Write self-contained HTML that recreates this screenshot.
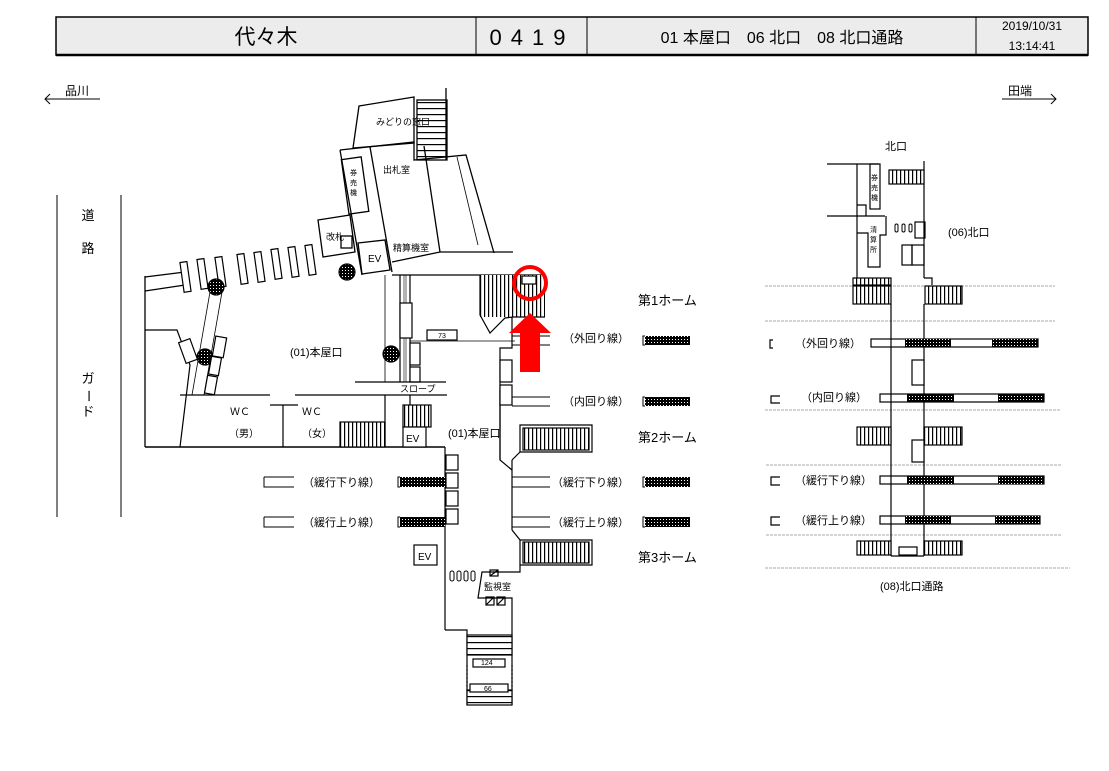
<!DOCTYPE html>
<html><head><meta charset="utf-8"><style>
html,body{margin:0;padding:0;background:#fff;}
svg{display:block;font-family:"Liberation Sans","Noto Sans CJK JP",sans-serif;}
</style></head><body>
<svg width="1109" height="771" viewBox="0 0 1109 771" xmlns="http://www.w3.org/2000/svg">
<defs>
<pattern id="h" width="3" height="3" patternUnits="userSpaceOnUse"><rect width="3" height="3" fill="#000"/><rect width="1" height="1" fill="#fff"/></pattern>
<pattern id="st" width="4" height="10" patternUnits="userSpaceOnUse"><rect width="4" height="10" fill="#fff"/><rect width="1.2" height="10" fill="#000"/></pattern>
<pattern id="sth" width="10" height="6" patternUnits="userSpaceOnUse"><rect width="10" height="6" fill="#fff"/><rect width="10" height="1.2" fill="#000"/></pattern>
</defs>
<!-- header -->
<rect x="56" y="17" width="1032" height="38" fill="#ececec" stroke="#000" stroke-width="1.5"/>
<line x1="56" y1="55" x2="1088" y2="55" stroke="#000" stroke-width="2.5"/>
<line x1="476" y1="17" x2="476" y2="55" stroke="#000"/>
<line x1="587" y1="17" x2="587" y2="55" stroke="#000"/>
<line x1="976" y1="17" x2="976" y2="55" stroke="#000"/>
<text x="266" y="44" font-size="21" text-anchor="middle">代々木</text>
<text x="532" y="45" font-size="22" text-anchor="middle" letter-spacing="9">0419</text>
<text x="782" y="43" font-size="16" text-anchor="middle">01 本屋口　06 北口　08 北口通路</text>
<text x="1032" y="30" font-size="12" text-anchor="middle">2019/10/31</text>
<text x="1032" y="50" font-size="12" text-anchor="middle">13:14:41</text>
<!-- direction -->
<g stroke="#000" fill="none" stroke-width="1">
<line x1="45" y1="99" x2="100" y2="99"/><polyline points="50,94 45,99 50,104"/>
<line x1="1002" y1="99" x2="1056" y2="99"/><polyline points="1051,94 1056,99 1051,104"/>
<line x1="57" y1="195" x2="57" y2="517"/><line x1="121" y1="195" x2="121" y2="517"/>
</g>
<text x="65" y="95" font-size="12">品川</text>
<text x="1008" y="95" font-size="12">田端</text>
<g font-size="13" text-anchor="middle"><text x="88" y="220">道</text><text x="88" y="253">路</text><text x="88" y="383">ガ</text><text x="88" y="400" transform="rotate(90 88 396)">ー</text><text x="88" y="416">ド</text></g>

<!-- LEFT MAIN -->
<g stroke="#000" fill="none" stroke-width="1.3">
<polygon points="359,106 414,97 414,143 353,148" fill="#fff"/>
<rect x="417" y="100" width="30" height="60" fill="url(#sth)"/>
<line x1="446" y1="88" x2="446" y2="160"/>
<polyline points="340,150 414,142 414,160 466,155 494,253"/>
<line x1="340" y1="150" x2="362" y2="275"/>
<line x1="370" y1="147" x2="392" y2="272"/>
<line x1="424" y1="146" x2="440" y2="252"/>
<line x1="457" y1="157" x2="478" y2="245" stroke-width="0.8"/>
<rect x="345" y="158" width="20" height="55" transform="rotate(-8 355 185)"/>
<polygon points="318,220 350,215 355,252 323,257" fill="#fff"/>
<rect x="341" y="236" width="11" height="12"/>
<polygon points="358,243 385,240 390,270 362,274" fill="#fff"/>
<polyline points="392,262 440,252 513,252"/>
<line x1="392" y1="275" x2="543" y2="275"/>
<line x1="145" y1="277" x2="185" y2="272"/><line x1="145" y1="291" x2="185" y2="285"/>
<line x1="145" y1="276" x2="145" y2="447"/>
</g>
<g stroke="#000" fill="#fff" stroke-width="1.2">
<rect x="182" y="262" width="7" height="30" transform="rotate(-8 185 277)"/>
<rect x="199" y="259" width="7" height="30" transform="rotate(-8 202 274)"/>
<rect x="217" y="257" width="7" height="30" transform="rotate(-8 220 272)"/>
<rect x="239" y="254" width="7" height="30" transform="rotate(-8 242 269)"/>
<rect x="256" y="252" width="7" height="30" transform="rotate(-8 259 267)"/>
<rect x="273" y="249" width="7" height="30" transform="rotate(-8 276 264)"/>
<rect x="290" y="247" width="7" height="30" transform="rotate(-8 293 262)"/>
<rect x="307" y="245" width="7" height="30" transform="rotate(-8 310 260)"/>
<circle cx="216" cy="287" r="8" fill="url(#h)"/>
<circle cx="347" cy="272" r="8" fill="url(#h)"/>
<circle cx="205" cy="357" r="8" fill="url(#h)"/>
<circle cx="391" cy="354" r="8" fill="url(#h)"/>
</g>
<g stroke="#000" fill="none" stroke-width="1.2">
<line x1="210" y1="292" x2="192" y2="395" stroke-width="0.8"/>
<line x1="222" y1="292" x2="204" y2="395" stroke-width="0.8"/>
<polyline points="145,330 177,330 190,365 180,447"/>
<line x1="180" y1="395" x2="270" y2="395"/>
<line x1="295" y1="395" x2="447" y2="395"/>
<line x1="270" y1="405" x2="298" y2="405"/><line x1="283" y1="405" x2="283" y2="447"/>
<line x1="145" y1="447" x2="445" y2="447" stroke-width="1.6"/>
<rect x="182" y="340" width="12" height="22" transform="rotate(-20 188 351)" fill="#fff"/>
<rect x="214" y="337" width="11" height="20" transform="rotate(10 220 347)" fill="#fff"/>
<rect x="210" y="357" width="10" height="18" transform="rotate(10 215 366)" fill="#fff"/>
<rect x="206" y="376" width="10" height="18" transform="rotate(10 211 385)" fill="#fff"/>
<line x1="385" y1="275" x2="385" y2="382" stroke-width="0.8"/>
<line x1="400" y1="275" x2="400" y2="382"/><line x1="410" y1="275" x2="410" y2="382"/>
<line x1="404" y1="275" x2="404" y2="382" stroke-width="0.6"/><line x1="406" y1="275" x2="406" y2="382" stroke-width="0.6"/>
<rect x="400" y="303" width="12" height="35" fill="#fff"/>
<line x1="410" y1="341" x2="515" y2="341" stroke-width="0.8"/>
<rect x="427" y="330" width="30" height="10" fill="#fff"/>
<rect x="410" y="343" width="10" height="22" fill="#fff"/>
<rect x="410" y="367" width="10" height="15" fill="#fff"/>
<line x1="355" y1="382" x2="446" y2="382"/>
<line x1="385" y1="395" x2="385" y2="447"/>
<line x1="410" y1="395" x2="410" y2="405"/>
<rect x="340" y="422" width="45" height="25" fill="url(#st)"/>
<rect x="403" y="405" width="28" height="22" fill="url(#st)"/>
<rect x="403" y="427" width="23" height="20" fill="#fff"/>
<rect x="480" y="275" width="65" height="42" fill="url(#st)" stroke="none"/>
<polyline points="480,275 480,315 490,333 505,318 513,317 545,317"/>
<rect x="522" y="276" width="14" height="8" fill="#fff"/>
<polyline points="512,317 512,348 500,348 500,460"/>
<polyline points="500,390 500,460 512,470"/>
<line x1="512" y1="460" x2="512" y2="530"/>
<polyline points="512,460 520,452 520,425 592,425 592,452 520,452" />
<polyline points="512,530 520,540 520,565 592,565 592,540 520,540"/>
<rect x="523" y="428" width="66" height="22" fill="url(#st)"/>
<rect x="523" y="542" width="66" height="21" fill="url(#st)"/>
<polyline points="520,565 520,572 482,572 478,598 512,598 512,630"/>
<line x1="445" y1="447" x2="445" y2="630"/>
<polyline points="445,630 467,630 467,705"/><line x1="512" y1="630" x2="512" y2="705"/>
<rect x="467" y="635" width="45" height="20" fill="url(#sth)"/>
<rect x="467" y="690" width="45" height="15" fill="url(#sth)"/>
<line x1="467" y1="665" x2="467" y2="690" stroke-dasharray="2,2"/><line x1="512" y1="665" x2="512" y2="690" stroke-dasharray="2,2"/>
<rect x="473" y="659" width="32" height="8" fill="#fff"/>
<rect x="470" y="684" width="38" height="8" fill="#fff"/>
<rect x="414" y="545" width="23" height="20" fill="#fff"/>
<rect x="490" y="570" width="8" height="6"/><line x1="490" y1="576" x2="498" y2="570"/>
<rect x="486" y="597" width="8" height="8"/><line x1="486" y1="605" x2="494" y2="597"/>
<rect x="497" y="597" width="8" height="8"/><line x1="497" y1="605" x2="505" y2="597"/>
<rect x="500" y="360" width="12" height="22" fill="#fff"/>
<rect x="500" y="385" width="12" height="20" fill="#fff"/>
<rect x="446" y="455" width="12" height="15" fill="#fff"/>
<rect x="446" y="473" width="12" height="15" fill="#fff"/>
<rect x="446" y="491" width="12" height="15" fill="#fff"/>
<rect x="446" y="509" width="12" height="15" fill="#fff"/>
</g>
<g fill="#fff" stroke="#000" stroke-width="1"><rect x="450" y="571" width="4" height="10" rx="2"/><rect x="457" y="571" width="4" height="10" rx="2"/><rect x="464" y="571" width="4" height="10" rx="2"/><rect x="471" y="571" width="4" height="10" rx="2"/></g>
<g stroke="#000" stroke-width="1" fill="none">
<line x1="512" y1="336" x2="550" y2="336"/><line x1="512" y1="345" x2="550" y2="345"/>
<line x1="512" y1="397" x2="550" y2="397"/><line x1="512" y1="406" x2="550" y2="406"/>
<line x1="512" y1="477" x2="550" y2="477"/><line x1="512" y1="487" x2="550" y2="487"/>
<line x1="512" y1="517" x2="550" y2="517"/><line x1="512" y1="527" x2="550" y2="527"/>
<polyline points="264,477 294,477"/><polyline points="294,487 264,487 264,477"/>
<polyline points="264,517 294,517"/><polyline points="294,527 264,527 264,517"/>
<polyline points="400,477 398,477 398,487 400,487"/><polyline points="400,517 398,517 398,527 400,527"/>
<polyline points="645,336 643,336 643,345 645,345"/><polyline points="645,397 643,397 643,406 645,406"/>
<polyline points="645,477 643,477 643,487 645,487"/><polyline points="645,517 643,517 643,527 645,527"/>
</g>
<g fill="url(#h)">
<rect x="645" y="336" width="45" height="9"/><rect x="645" y="397" width="45" height="9"/>
<rect x="645" y="477" width="45" height="10"/><rect x="645" y="517" width="45" height="10"/>
<rect x="400" y="477" width="45" height="10"/><rect x="400" y="517" width="45" height="10"/>
</g>
<g font-size="9">
<text x="376" y="125">みどりの窓口</text><text x="383" y="173">出札室</text><text x="393" y="251">精算機室</text>
<text x="326" y="240">改札</text><text x="368" y="262" font-size="10">EV</text>
<text x="350" y="175" font-size="7">券</text><text x="350" y="185" font-size="7">売</text><text x="350" y="195" font-size="7">機</text>
<text x="230" y="415" font-size="10">ＷＣ</text><text x="229" y="437" font-size="10">（男）</text>
<text x="302" y="415" font-size="10">ＷＣ</text><text x="302" y="437" font-size="10">（女）</text>
<text x="400" y="392">スロープ</text>
<text x="406" y="442" font-size="10">EV</text><text x="418" y="560" font-size="10">EV</text>
<text x="484" y="590">監視室</text>
<text x="442" y="338" font-size="7" text-anchor="middle">73</text>
<text x="481" y="665" font-size="7">124</text><text x="484" y="691" font-size="7">66</text>
</g>
<g font-size="11">
<text x="290" y="356">(01)本屋口</text><text x="448" y="437">(01)本屋口</text>
<text x="563" y="342">（外回り線）</text><text x="563" y="405">（内回り線）</text>
<text x="552" y="486">（緩行下り線）</text><text x="552" y="526">（緩行上り線）</text>
<text x="303" y="486">（緩行下り線）</text><text x="303" y="526">（緩行上り線）</text>
</g>
<g font-size="13"><text x="638" y="305">第1ホーム</text><text x="638" y="442">第2ホーム</text><text x="638" y="562">第3ホーム</text></g>
<circle cx="530" cy="283" r="16" fill="none" stroke="#f00" stroke-width="4"/>
<polygon points="530,313 551,333 540,333 540,372 520,372 520,333 509,333" fill="#f00"/>

<!-- RIGHT DIAGRAM -->
<g stroke="#aaa" stroke-width="1" stroke-dasharray="3,1">
<line x1="765" y1="286" x2="1055" y2="286"/><line x1="765" y1="321" x2="1055" y2="321"/>
<line x1="765" y1="410" x2="1060" y2="410"/><line x1="766" y1="465" x2="1062" y2="465"/>
<line x1="766" y1="535" x2="1062" y2="535"/><line x1="765" y1="568" x2="1070" y2="568"/>
</g>
<g stroke="#000" stroke-width="1.2" fill="none">
<line x1="924" y1="161" x2="924" y2="278"/><polyline points="924,278 932,278 932,285"/>
<line x1="827" y1="164" x2="879" y2="164"/><line x1="827" y1="216" x2="885" y2="216"/>
<line x1="857" y1="164" x2="857" y2="283"/>
<rect x="870" y="164" width="10" height="45"/>
<polyline points="857,205 866,205 866,216"/>
<polyline points="857,233 868,233 868,267 880,267 880,235 886,235 886,216"/>
<rect x="889" y="170" width="35" height="14" fill="url(#st)"/>
<rect x="915" y="222" width="10" height="16"/>
<rect x="902" y="245" width="10" height="20"/><rect x="912" y="245" width="12" height="20"/>
<rect x="853" y="278" width="38" height="7" fill="url(#st)"/>
<rect x="853" y="286" width="38" height="18" fill="url(#st)"/>
<rect x="925" y="286" width="37" height="18" fill="url(#st)"/>
<line x1="891" y1="304" x2="891" y2="556"/><line x1="924" y1="304" x2="924" y2="556"/>
<rect x="857" y="427" width="34" height="18" fill="url(#st)"/>
<rect x="924" y="427" width="38" height="18" fill="url(#st)"/>
<rect x="857" y="541" width="34" height="14" fill="url(#st)"/>
<rect x="924" y="541" width="38" height="14" fill="url(#st)"/>
<line x1="891" y1="556" x2="924" y2="556"/>
<rect x="899" y="547" width="18" height="8" fill="#fff"/>
<rect x="912" y="360" width="12" height="25" fill="#fff"/>
<rect x="912" y="440" width="12" height="22" fill="#fff"/>
<rect x="871" y="339" width="167" height="8"/><rect x="880" y="394" width="164" height="8"/>
<rect x="880" y="476" width="164" height="8"/><rect x="880" y="516" width="160" height="8"/>
<polyline points="773,340 770,340 770,348 773,348"/>
<polyline points="780,396 771,396 771,403 780,403"/>
<polyline points="780,477 771,477 771,485 780,485"/>
<polyline points="780,517 771,517 771,525 780,525"/>
</g>
<g fill="url(#h)">
<rect x="905" y="339" width="46" height="8"/><rect x="992" y="339" width="46" height="8"/>
<rect x="907" y="394" width="47" height="8"/><rect x="998" y="394" width="46" height="8"/>
<rect x="907" y="476" width="47" height="8"/><rect x="998" y="476" width="46" height="8"/>
<rect x="905" y="516" width="46" height="8"/><rect x="995" y="516" width="45" height="8"/>
</g>
<g><rect x="895" y="224" width="3" height="8" rx="1.5" fill="none" stroke="#000"/><rect x="902" y="224" width="3" height="8" rx="1.5" fill="none" stroke="#000"/><rect x="909" y="224" width="3" height="8" rx="1.5" fill="none" stroke="#000"/></g>
<g font-size="11">
<text x="885" y="150">北口</text><text x="948" y="236">(06)北口</text>
<text x="795" y="347">（外回り線）</text><text x="801" y="401">（内回り線）</text>
<text x="795" y="484">（緩行下り線）</text><text x="795" y="524">（緩行上り線）</text>
<text x="880" y="590">(08)北口通路</text>
</g>
<g font-size="7"><text x="871" y="180">券</text><text x="871" y="190">売</text><text x="871" y="200">機</text>
<text x="870" y="232">清</text><text x="870" y="242">算</text><text x="870" y="252">所</text></g>
</svg>
</body></html>
